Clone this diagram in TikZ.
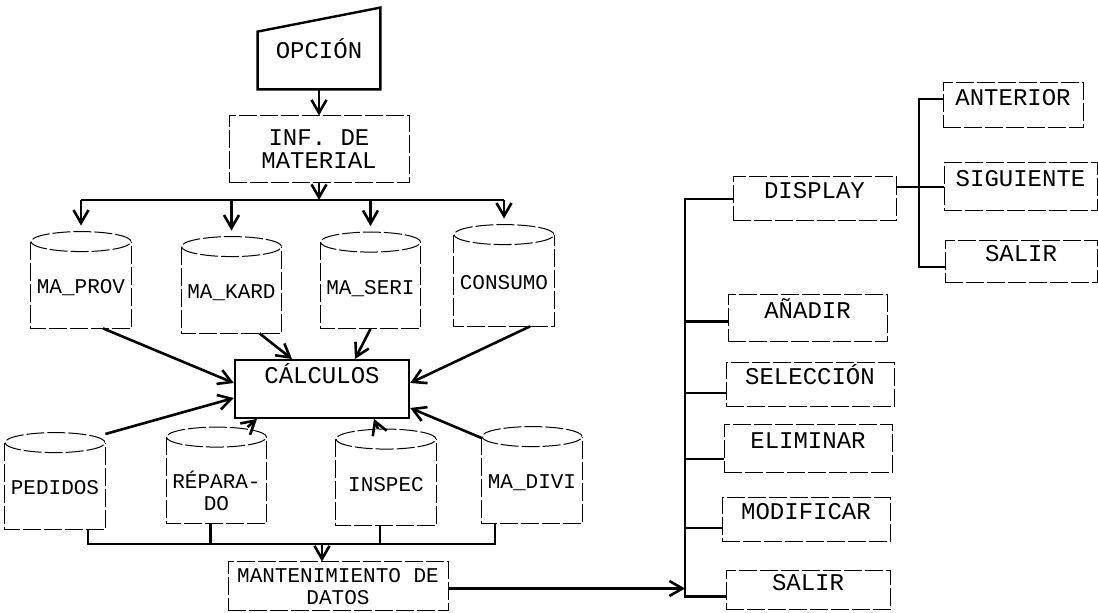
\documentclass[tikz,border=0pt]{standalone}
\usepackage{fontspec}
\newfontfamily\maquina{Liberation Mono}
\usetikzlibrary{arrows.meta}

\begin{document}
\begin{tikzpicture}[x=0.5pt,y=-0.5pt,
  letra/.style   ={font=\maquina\fontsize{12}{11.5}\selectfont},
  chica/.style   ={font=\maquina\fontsize{10.5}{11}\selectfont},
  trazo/.style   ={line width=0.5pt, dash pattern=on 9pt off 1.5pt},
  caja/.style    ={letra, draw, trazo, inner sep=0pt},
  alta/.style    ={text height=8.5pt, text depth=8.5pt},
  base/.style    ={chica, inner sep=0pt, minimum width=50pt, minimum height=48pt,
                   text height=16pt, text depth=2pt},
  bus/.style     ={line width=1.3pt},
  flecha/.style  ={line width=1.3pt, -{Straight Barb[length=6.5pt,width=7.5pt]}}]

  \useasboundingbox (0,0) rectangle (1098,613);

  % ---------------- entrada ----------------
  \node[letra, minimum width=61pt, minimum height=40.5pt] (opcion) at (319,48.5) {OPCIÓN};
  \draw[line width=1.2pt] (opcion.south west) -- ([yshift=-12pt]opcion.north west)
        -- (opcion.north east) -- (opcion.south east) -- cycle;
  \node[caja, minimum width=90pt, minimum height=33.5pt, align=center] (inf) at (319,149.5) {INF. DE\\MATERIAL};
  \draw[flecha] (opcion) -- (inf);

  % ---------------- archivos (cilindros) ----------------
  \node[base] (prov) at (81,280)      {MA\_PROV};
  \node[base] (kard) at (231.5,285)   {MA\_KARD};
  \node[base] (seri) at (370.5,280.5) {MA\_SERI};
  \node[base, minimum height=50.5pt] (cons) at (504,275.5) {CONSUMO};
  \node[base] (ped)  at (55,481)      {PEDIDOS};
  \node[base, align=center, text height=37pt, text depth=1.5pt] (rep) at (216.5,475.5) {RÉPARA-\\DO};
  \node[base] (insp) at (386,477.5)   {INSPEC};
  \node[base] (divi) at (532,475)     {MA\_DIVI};
  \foreach \c in {prov,kard,seri,cons,ped,rep,insp,divi}{
    \draw[trazo] ([yshift=-5pt]\c.north west) -- (\c.south west) -- (\c.south east)
          -- ([yshift=-5pt]\c.north east);
    \draw[trazo] ([yshift=-5pt]\c.north) ellipse [x radius=25pt, y radius=5pt];
  }

  \coordinate (busA) at (319,200);
  \draw[flecha] (inf) -- (busA);
  \draw[bus] (prov.north |- busA) -- (cons.north |- busA);
  \foreach \f in {prov,kard,seri,cons}
    \draw[flecha, shorten >=3pt] (\f.north |- busA) -- (\f.north);

  % ---------------- calculos ----------------
  \node[letra, draw, line width=1.2pt, minimum width=87pt, minimum height=28pt,
        text height=8.5pt, text depth=13.6pt] (calc) at (322,389) {CÁLCULOS};

  \draw[flecha] ([xshift=11pt]prov.south) -- ([yshift=3pt]calc.west);
  \draw[flecha] ([xshift=14pt]kard.south) -- ([xshift=-15pt]calc.north);
  \draw[flecha] (seri.south) -- ([xshift=16.5pt]calc.north);
  \draw[flecha] ([xshift=13pt]cons.south) -- ([yshift=3pt]calc.east);
  \draw[flecha] (ped.43) -- ([yshift=-4.5pt]calc.west);
  \draw[flecha] ([xshift=15.5pt]rep.north) -- ([xshift=-32.5pt]calc.south);
  \draw[flecha] ([xshift=-4pt]insp.north) -- ([xshift=26pt]calc.south);
  \draw[flecha] ([yshift=18.5pt]divi.west) -- ([yshift=-9.5pt]calc.east);

  % ---------------- mantenimiento ----------------
  \coordinate (busB) at (322,544);
  \node[caja, chica, minimum width=110pt, minimum height=24.5pt, align=center] (mant) at (338,586.5) {MANTENIMIENTO DE\\DATOS};
  \draw[bus] ([xshift=16.5pt]ped.south) |- (busB) -| ([xshift=-18.5pt]divi.south);
  \draw[bus] ([xshift=-3pt]rep.south) -- ([xshift=-3pt]rep.south |- busB);
  \draw[bus] ([xshift=-3pt]insp.south) -- ([xshift=-3pt]insp.south |- busB);
  \draw[flecha] (busB) -- (busB |- mant.north);

  % ---------------- menu de mantenimiento ----------------
  \coordinate (rx) at (685,0);
  \node[caja, alta, minimum width=81.5pt, minimum height=22pt] (disp) at (814.5,199) {DISPLAY};
  \node[caja, alta, minimum width=79.5pt, minimum height=23.5pt] (add)  at (807.5,318.5) {AÑADIR};
  \node[caja, alta, minimum width=84pt, minimum height=22pt]   (sel)  at (810,385)   {SELECCIÓN};
  \node[caja, alta, minimum width=84pt, minimum height=24pt]   (eli)  at (808,449)   {ELIMINAR};
  \node[caja, alta, minimum width=84pt, minimum height=22pt]   (mod)  at (806,520)   {MODIFICAR};
  \node[caja, alta, minimum width=82pt, minimum height=19.5pt] (sal)  at (808,590.5) {SALIR};
  \draw[bus] (disp.west) -| ([yshift=-3pt]sal.west -| rx) -- ([yshift=-3pt]sal.west);
  \foreach \b/\s in {add/-1.5pt, sel/-4pt, eli/-5pt, mod/-4pt}
    \draw[bus] ([yshift=\s]\b.west -| rx) -- ([yshift=\s]\b.west);
  \draw[flecha] ([yshift=-1pt]mant.east) -- ([yshift=-1pt]mant.east -| rx);

  % ---------------- submenu de display ----------------
  \coordinate (sx) at (919,0);
  \node[caja, alta, minimum width=70pt, minimum height=22.5pt] (ant)  at (1013,105.5) {ANTERIOR};
  \node[caja, alta, minimum width=76.5pt, minimum height=24pt] (sig)  at (1020.5,187) {SIGUIENTE};
  \node[caja, alta, minimum width=76pt, minimum height=21pt]   (sal2) at (1021,262)   {SALIR};
  \draw[bus] ([yshift=3.25pt]ant.west) -- ([yshift=3.25pt]ant.west -| sx)
        -- ([yshift=-2.5pt]sal2.west -| sx) -- ([yshift=-2.5pt]sal2.west);
  \draw[bus] (disp.east |- sig.west) -- (sig.west);
\end{tikzpicture}
\end{document}
